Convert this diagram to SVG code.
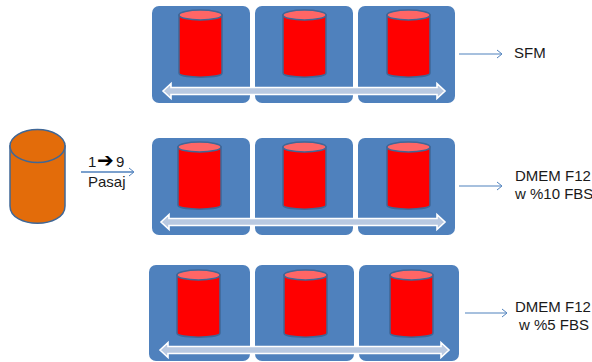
<svg xmlns="http://www.w3.org/2000/svg" width="592" height="362" viewBox="0 0 592 362">
<style>
.p{fill:#4f81bd}
.b{fill:#f00;stroke:#3f6797;stroke-width:1.5}
.t{fill:#ff6666;stroke:#3f6797;stroke-width:1.5}
.a{fill:#b9c9e1;stroke:#fff;stroke-width:1.6}
.c{fill:none;stroke:#4f81bd;stroke-width:1}
text{font-family:"Liberation Sans",Arial,sans-serif;font-size:15px;fill:#1a1a1a}
</style>
<defs>
<symbol id="cyl" overflow="visible">
<path class="b" d="M0 5V63C0 68.500 43 68.500 43 63V5Z"/>
<ellipse class="t" cx="21.500" cy="5" rx="21.500" ry="5"/>
</symbol>
<path id="h" d="M-5-4L0 0L-5 4" fill="none" stroke="#4f81bd"/>
</defs>
<g id="source">
<path d="M10 146V206C10 229 65 229 65 206V146Z" fill="#e36c0a" stroke="#3f6797" stroke-width="1.500"/>
<ellipse cx="37.500" cy="146" rx="27.500" ry="16.500" fill="#e36c0a" stroke="#3f6797" stroke-width="1.500"/>
</g>
<g id="row1">
<rect class="p" x="152" y="6" width="98" height="97" rx="7"/>
<rect class="p" x="255" y="6" width="98" height="97" rx="7"/>
<rect class="p" x="358" y="6" width="97" height="97" rx="7"/>
<use href="#cyl" x="179" y="10"/><use href="#cyl" x="283" y="10"/><use href="#cyl" x="387" y="10"/>
<path class="a" d="M163 91L171 83.500V87.500H437V83.500L445 91L437 98.500V94.500H171V98.500Z"/>
</g>
<g id="row2">
<rect class="p" x="152" y="138" width="98" height="97" rx="7"/>
<rect class="p" x="255" y="138" width="98" height="97" rx="7"/>
<rect class="p" x="358" y="138" width="97" height="97" rx="7"/>
<use href="#cyl" x="178" y="142"/><use href="#cyl" x="283" y="142"/><use href="#cyl" x="387" y="142"/>
<path class="a" d="M161 222L169 214.500V218.500H437V214.500L445 222L437 229.500V225.500H169V229.500Z"/>
</g>
<g id="row3">
<rect class="p" x="149" y="265" width="101" height="96" rx="7"/>
<rect class="p" x="255" y="265" width="99" height="96" rx="7"/>
<rect class="p" x="359" y="265" width="100" height="96" rx="7"/>
<use href="#cyl" x="177" y="270"/><use href="#cyl" x="284" y="270"/><use href="#cyl" x="390" y="270"/>
<path class="a" d="M160 350L168 342.500V346.500H441V342.500L449 350L441 357.500V353.500H168V357.500Z"/>
</g>
<g id="connectors">
<path d="M81 172H133" fill="none" stroke="#4f81bd" stroke-width="1.500"/><use href="#h" x="134" y="172"/>
<path class="c" d="M459 54H501"/><use href="#h" x="502" y="54"/>
<path class="c" d="M459 186H501"/><use href="#h" x="502" y="186"/>
<path class="c" d="M465 313H506"/><use href="#h" x="507" y="313"/>
</g>
<g id="labels">
<text x="88 97 116" y="167">1<tspan font-family="DejaVu Sans" font-size="20" fill="#000">➔</tspan>9</text>
<text x="88" y="187">Pasaj</text>
<text x="514" y="58">SFM</text>
<text x="515" y="181">DMEM F12</text>
<text x="515" y="199">w %10 FBS</text>
<text x="515" y="312">DMEM F12</text>
<text x="519" y="330">w %5 FBS</text>
</g>
</svg>
